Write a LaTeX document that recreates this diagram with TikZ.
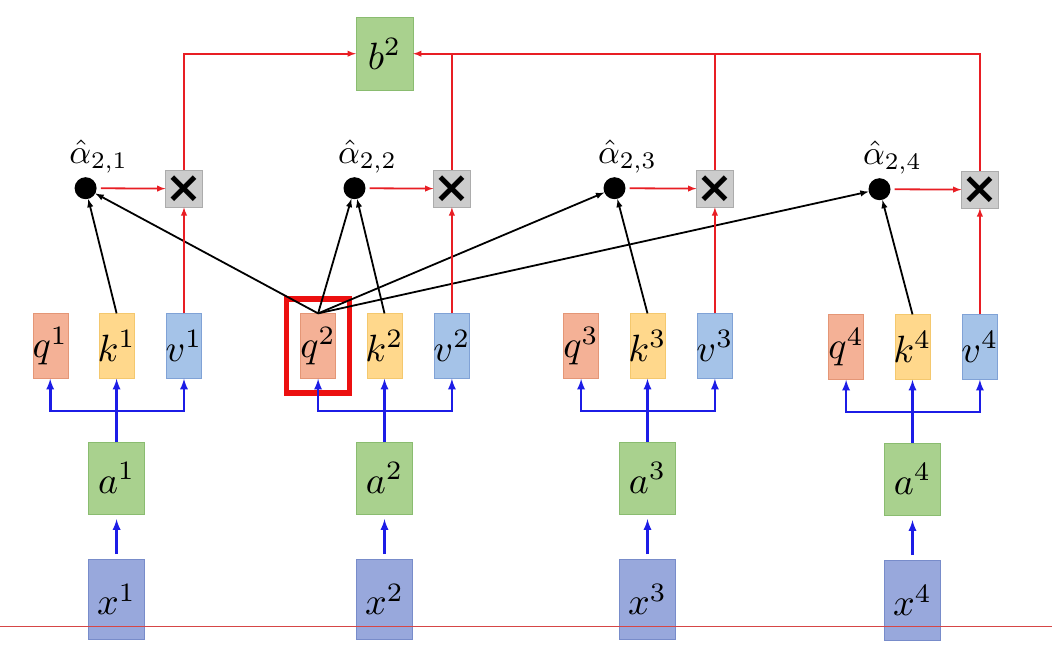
\documentclass[tikz,border=0pt]{standalone}
\usepackage{fontspec}
\newfontfamily\crossfont{DejaVu Sans}
\usetikzlibrary{positioning}

\newcommand{\vecsym}[1]{\makebox[0pt]{\scalebox{3.8}{$#1$}}}
\newcommand{\wsym}[1]{\scalebox{3.4}{$#1$}}

\definecolor{qfill}{RGB}{244,177,150}
\definecolor{qline}{RGB}{228,150,118}
\definecolor{kfill}{RGB}{255,216,140}
\definecolor{kline}{RGB}{244,200,110}
\definecolor{vfill}{RGB}{165,195,232}
\definecolor{vline}{RGB}{128,162,214}
\definecolor{gfill}{RGB}{169,209,142}
\definecolor{gline}{RGB}{138,188,112}
\definecolor{xfill}{RGB}{152,168,220}
\definecolor{xline}{RGB}{120,140,202}
\definecolor{mfill}{RGB}{204,204,204}
\definecolor{mline}{RGB}{172,172,172}
\definecolor{sumred}{RGB}{232,30,36}
\definecolor{feedblue}{RGB}{28,28,230}
\definecolor{hlred}{RGB}{236,16,16}
\definecolor{rulered}{RGB}{214,70,70}

\begin{document}
\begin{tikzpicture}[
  x=1pt, y=1pt,
  box/.style={
    draw,
    inner sep=0pt
  },
  qbox/.style={box, fill=qfill, draw=qline, minimum width=35pt, minimum height=65pt},
  kbox/.style={box, fill=kfill, draw=kline, minimum width=35pt, minimum height=65pt},
  vbox/.style={box, fill=vfill, draw=vline, minimum width=35pt, minimum height=65pt},
  abox/.style={box, fill=gfill, draw=gline, minimum width=56pt, minimum height=72pt},
  xbox/.style={box, fill=xfill, draw=xline, minimum width=56pt, minimum height=80pt},
  mult/.style={box, fill=mfill, draw=mline, minimum width=36pt, minimum height=37pt,
    font=\crossfont\bfseries\fontsize{44}{44}\selectfont},
  dot/.style={circle, fill=black, inner sep=0pt, minimum size=22pt},
  score/.style={inner sep=1pt},
  hl/.style={draw=hlred, line width=5.5pt, minimum width=63pt, minimum height=94pt},
  feed/.style={draw=feedblue, line width=2.6pt, -latex},
  embed/.style={feed, shorten <=5pt, shorten >=5pt},
  attn/.style={draw=black, line width=1.8pt, -latex},
  wsum/.style={draw=sumred, line width=1.8pt, -latex}
]
\fill[white] (0,0) rectangle (1052,-655);
\useasboundingbox (0,0) rectangle (1052,-655);

\node[abox] (a1) at (116.6,-478) {\vecsym{a^1}};
\node[abox] (a2) at (384.5,-478) {\vecsym{a^2}};
\node[abox] (a3) at (647.5,-478) {\vecsym{a^3}};
\node[abox] (a4) at (912.5,-479) {\vecsym{a^4}};

\node[xbox, below=45pt of a1] (x1) {\vecsym{x^1}};
\node[xbox, below=45pt of a2] (x2) {\vecsym{x^2}};
\node[xbox, below=45pt of a3] (x3) {\vecsym{x^3}};
\node[xbox, below=45pt of a4] (x4) {\vecsym{x^4}};

\node[kbox, above=63pt of a1] (k1) {\vecsym{k^1}};
\node[kbox, above=63pt of a2] (k2) {\vecsym{k^2}};
\node[kbox, above=63pt of a3] (k3) {\vecsym{k^3}};
\node[kbox, above=63pt of a4] (k4) {\vecsym{k^4}};

\node[qbox, left=31pt of k1] (q1) {\vecsym{q^1}};
\node[qbox, left=31pt of k2] (q2) {\vecsym{q^2}};
\node[qbox, left=31pt of k3] (q3) {\vecsym{q^3}};
\node[qbox, left=31pt of k4] (q4) {\vecsym{q^4}};

\node[vbox, right=32pt of k1] (v1) {\vecsym{v^1}};
\node[vbox, right=32pt of k2] (v2) {\vecsym{v^2}};
\node[vbox, right=32pt of k3] (v3) {\vecsym{v^3}};
\node[vbox, right=32pt of k4] (v4) {\vecsym{v^4}};

\node[dot, above=114pt of k1, xshift=-31pt] (d1) {};
\node[dot, above=114pt of k2, xshift=-30pt] (d2) {};
\node[dot, above=114pt of k3, xshift=-33pt] (d3) {};
\node[dot, above=114pt of k4, xshift=-33pt] (d4) {};

\node[score, above=3pt of d1, xshift=13pt] (s1) {\wsym{\hat{\alpha}_{2,1}}};
\node[score, above=3pt of d2, xshift=13pt] (s2) {\wsym{\hat{\alpha}_{2,2}}};
\node[score, above=3pt of d3, xshift=13pt] (s3) {\wsym{\hat{\alpha}_{2,3}}};
\node[score, above=3pt of d4, xshift=13pt] (s4) {\wsym{\hat{\alpha}_{2,4}}};

\node[mult, above=106pt of v1] (m1) {×};
\node[mult, above=106pt of v2] (m2) {×};
\node[mult, above=106pt of v3] (m3) {×};
\node[mult, above=106pt of v4] (m4) {×};

\node[abox, above=223pt of k2, minimum width=57pt, minimum height=73pt] (b2) {\vecsym{b^2}};

\node[hl] (focus) at (q2) {};

\draw[embed] (x1) -- (a1);
\draw[embed] (x2) -- (a2);
\draw[embed] (x3) -- (a3);
\draw[embed] (x4) -- (a4);

\draw[feed] (a1.north) -- (k1.south);
\draw[feed] (a1.north) -- ++(0,31) -| (q1.south);
\draw[feed] (a1.north) -- ++(0,31) -| (v1.south);
\draw[feed] (a2.north) -- (k2.south);
\draw[feed] (a2.north) -- ++(0,31) -| (q2.south);
\draw[feed] (a2.north) -- ++(0,31) -| (v2.south);
\draw[feed] (a3.north) -- (k3.south);
\draw[feed] (a3.north) -- ++(0,31) -| (q3.south);
\draw[feed] (a3.north) -- ++(0,31) -| (v3.south);
\draw[feed] (a4.north) -- (k4.south);
\draw[feed] (a4.north) -- ++(0,31) -| (q4.south);
\draw[feed] (a4.north) -- ++(0,31) -| (v4.south);

\draw[attn] (k1.north) -- (d1);
\draw[attn] (q2.north) -- (d1);
\draw[attn] (q2.north) -- (d2);
\draw[attn] (k2.north) -- (d2);
\draw[attn] (q2.north) -- (d3);
\draw[attn] (k3.north) -- (d3);
\draw[attn] (q2.north) -- (d4);
\draw[attn] (k4.north) -- (d4);

\draw[wsum, shorten <=4pt] (d1) -- (m1);
\draw[wsum, shorten <=4pt] (d2) -- (m2);
\draw[wsum, shorten <=4pt] (d3) -- (m3);
\draw[wsum, shorten <=4pt] (d4) -- (m4);
\draw[wsum] (v1) -- (m1);
\draw[wsum] (v2) -- (m2);
\draw[wsum] (v3) -- (m3);
\draw[wsum] (v4) -- (m4);

\draw[wsum] (m1) |- (b2);
\draw[wsum] (m4) |- (b2);
\draw[wsum, -] (m2) -- (m2 |- b2);
\draw[wsum, -] (m3) -- (m3 |- b2);

\draw[rulered, line width=0.8pt] (0,-626) -- (1052,-626);
\end{tikzpicture}
\end{document}
